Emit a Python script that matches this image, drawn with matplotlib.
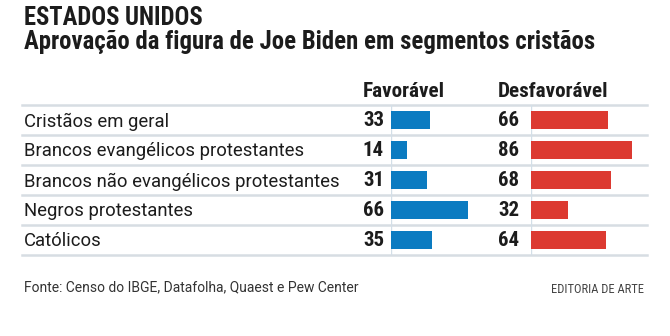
import numpy as np
import matplotlib.pyplot as plt

# Aprovação de Joe Biden por segmento cristão (%)
categorias = [
    "Cristãos em geral",
    "Brancos evangélicos protestantes",
    "Brancos não evangélicos protestantes",
    "Negros protestantes",
    "Católicos",
]
favoravel = [33, 14, 31, 66, 35]
desfavoravel = [66, 86, 68, 32, 64]

AZUL = "#0b7bc1"
VERMELHO = "#dc3a31"
TEXTO = "#1c1c1c"
LINHA = "#d7dde3"

CONDENSADA = ["Roboto Condensed", "DejaVu Sans"]
NORMAL = ["Roboto", "DejaVu Sans"]
plt.rcParams["font.family"] = CONDENSADA

W, H = 670, 336
fig = plt.figure(figsize=(W / 100, H / 100), dpi=100)
fig.patch.set_facecolor("white")


def caixa(x0, y0, x1, y1):
    # coordenadas em pixels (origem no topo) -> fração da figura
    return [x0 / W, 1 - y1 / H, (x1 - x0) / W, (y1 - y0) / H]


topo, base = 105, 255
n = len(categorias)

# fundo com as linhas separadoras e os nomes dos segmentos
fundo = fig.add_axes(caixa(22, topo, 647, base))
fundo.set_xlim(0, 1)
fundo.set_ylim(n - 0.5, -0.5)
fundo.axis("off")
for y in np.arange(-0.5, n):
    fundo.axhline(y, color=LINHA, lw=1.8, clip_on=False, zorder=0)
for i, cat in enumerate(categorias):
    fundo.text(0.003, i + 0.05, cat, va="center", ha="left", fontsize=13.3,
               color=TEXTO, family=NORMAL)

px_por_ponto = 1.17
largura = 118


def painel(x0, valores, cor, recuo):
    ax = fig.add_axes(caixa(x0, topo, x0 + largura, base))
    ax.set_xlim(0, largura / px_por_ponto)
    ax.set_ylim(n - 0.5, -0.5)
    ax.axis("off")
    ax.axvline(0, color="#d3dfe8", lw=1, zorder=0)
    ax.barh(range(n), valores, height=0.57, color=cor, zorder=2)
    for i, v in enumerate(valores):
        ax.annotate(str(v), (0, i), xytext=(-recuo, 0), textcoords="offset points",
                    ha="right", va="center", fontsize=15, fontweight="bold", color=TEXTO)
    return ax


painel(391, favoravel, AZUL, 5)
painel(531, desfavoravel, VERMELHO, 8.5)

# títulos
fig.text(24 / W, 1 - 25 / H, "ESTADOS UNIDOS", fontsize=17.7, fontweight="bold",
         color=TEXTO, va="baseline")
fig.text(24 / W, 1 - 49.5 / H, "Aprovação da figura de Joe Biden em segmentos cristãos",
         fontsize=17.8, fontweight="bold", color=TEXTO, va="baseline")

# cabeçalhos das colunas
fig.text(363 / W, 1 - 97 / H, "Favorável", fontsize=15.2, fontweight="bold",
         color=TEXTO, va="baseline")
fig.text(498 / W, 1 - 97 / H, "Desfavorável", fontsize=15.2, fontweight="bold",
         color=TEXTO, va="baseline")

# rodapé
fig.text(24 / W, 1 - 291 / H, "Fonte: Censo do IBGE, Datafolha, Quaest e Pew Center",
         fontsize=10, color="#333333", va="baseline", family=NORMAL)
fig.text(644 / W, 1 - 293 / H, "EDITORIA DE ARTE", fontsize=9, color="#444444",
         va="baseline", ha="right")

fig.savefig("out.png", dpi=100, facecolor="white")
